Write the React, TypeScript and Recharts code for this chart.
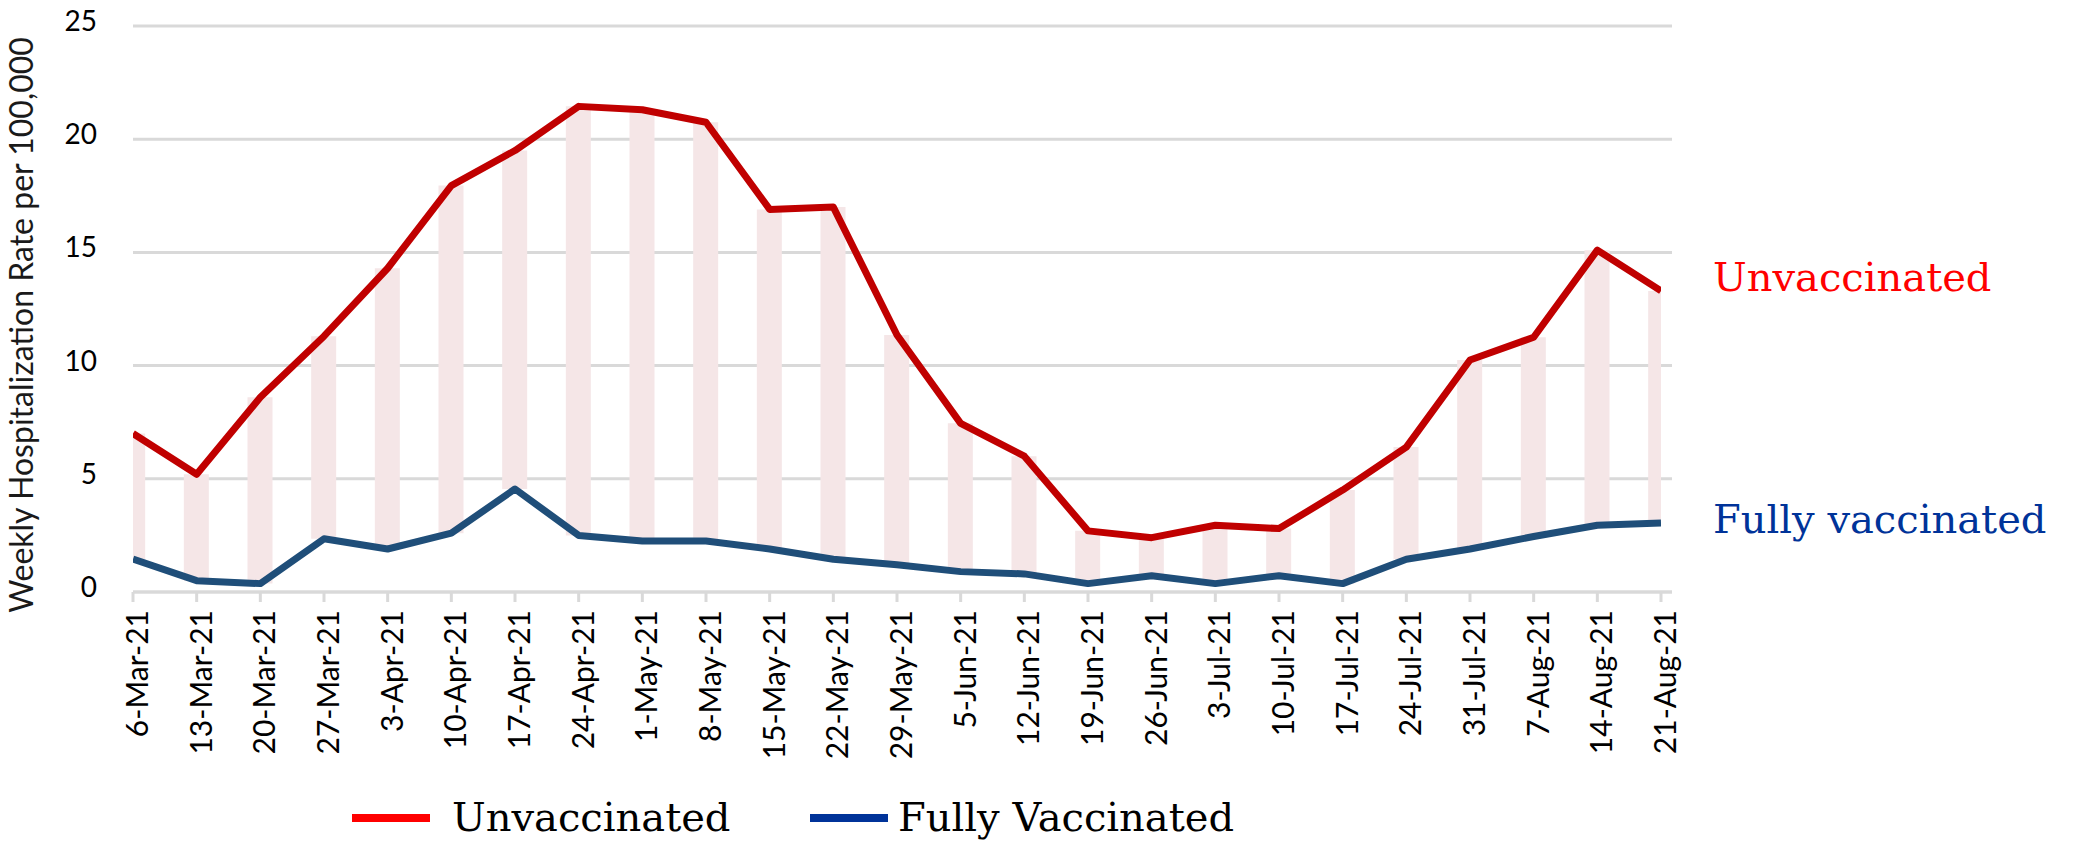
import React from 'react';
import { ComposedChart, Line, Bar, XAxis, YAxis, CartesianGrid, Legend } from 'recharts';

const categories = [
  '6-Mar-21', '13-Mar-21', '20-Mar-21', '27-Mar-21', '3-Apr-21', '10-Apr-21', '17-Apr-21',
  '24-Apr-21', '1-May-21', '8-May-21', '15-May-21', '22-May-21', '29-May-21', '5-Jun-21',
  '12-Jun-21', '19-Jun-21', '26-Jun-21', '3-Jul-21', '10-Jul-21', '17-Jul-21', '24-Jul-21',
  '31-Jul-21', '7-Aug-21', '14-Aug-21', '21-Aug-21',
];

const unvaccinated = [
  7.0, 5.2, 8.6, 11.3, 14.3, 17.95, 19.5, 21.45, 21.3, 20.75, 16.9, 17.0, 11.35,
  7.45, 6.0, 2.7, 2.4, 2.95, 2.8, 4.5, 6.4, 10.25, 11.25, 15.1, 13.3,
];

const fullyVaccinated = [
  1.45, 0.5, 0.37, 2.35, 1.9, 2.6, 4.55, 2.5, 2.25, 2.25, 1.9, 1.45, 1.2,
  0.9, 0.8, 0.37, 0.72, 0.37, 0.72, 0.37, 1.45, 1.9, 2.45, 2.95, 3.05,
];

const yTicks = [0, 5, 10, 15, 20, 25];

const seriesNames = ['Unvaccinated', 'Fully Vaccinated'];
const annotationNames = ['Unvaccinated', 'Fully vaccinated'];

const data = categories.map((label, i) => ({
  idx: i,
  label,
  unvax: unvaccinated[i],
  fv: fullyVaccinated[i],
}));

const RED_LINE = '#C00000';
const BLUE_LINE = '#1F4E79';
const GRID = '#D9D9D9';
const TICK_FONT = 'Lato, "Noto Sans", sans-serif';
const SERIF = '"DejaVu Serif", serif';

const XTick = (props: any) => {
  const { x, y, payload } = props;
  return (
    <text
      x={x}
      y={y}
      transform={`rotate(-90 ${x} ${y})`}
      textAnchor="end"
      dy={15}
      fontSize={30}
      fontFamily={TICK_FONT}
      fill="#000"
    >
      {categories[payload.value]}
    </text>
  );
};

const YTick = (props: any) => {
  const { x, y, payload } = props;
  return (
    <text x={x} y={y} textAnchor="end" dy={5} fontSize={28} fontFamily={TICK_FONT} fill="#000">
      {payload.value}
    </text>
  );
};

const YTitle = () => (
  <text
    x={33}
    y={325}
    transform="rotate(-90 33 325)"
    textAnchor="middle"
    fontSize={32}
    fontFamily={TICK_FONT}
    fill="#1a1a1a"
  >
    Weekly Hospitalization Rate per 100,000
  </text>
);

const legendLayout = [
  { swatch: 352, text: 452, color: '#FF0000' },
  { swatch: 810, text: 898, color: '#003399' },
];

const LegendContent = (props: any) => {
  const payload = (props.payload || []).filter((p: any) => p.type !== 'none');
  return (
    <div style={{ position: 'relative', width: 2077, height: 50 }}>
      {payload.map((p: any) => {
        const k = Math.max(0, seriesNames.indexOf(p.value));
        const pos = legendLayout[k];
        return (
          <React.Fragment key={p.value}>
            <div
              style={{
                position: 'absolute',
                left: pos.swatch,
                top: 22,
                width: 78,
                height: 8,
                background: pos.color,
              }}
            />
            <div
              style={{
                position: 'absolute',
                left: pos.text,
                top: 0,
                height: 50,
                lineHeight: '50px',
                fontSize: 40,
                fontFamily: SERIF,
                color: '#000',
                whiteSpace: 'nowrap',
              }}
            >
              {p.value}
            </div>
          </React.Fragment>
        );
      })}
    </div>
  );
};

export default function App() {
  return (
    <div style={{ position: 'absolute', left: 0, top: 0, width: 2077, height: 842, background: '#fff' }}>
      <ComposedChart
        width={2077}
        height={842}
        data={data}
        margin={{ top: 26, right: 405, bottom: 0, left: 0 }}
      >
        <CartesianGrid vertical={false} stroke={GRID} strokeWidth={3} />
        <XAxis
          dataKey="idx"
          type="number"
          domain={[0, 24]}
          ticks={categories.map((_, i) => i)}
          interval={0}
          allowDataOverflow
          padding={{ left: 0, right: 11 }}
          height={200}
          axisLine={{ stroke: GRID, strokeWidth: 3 }}
          tickLine={{ stroke: GRID, strokeWidth: 3 }}
          tickSize={10}
          tickMargin={8}
          tick={<XTick />}
        />
        <YAxis
          type="number"
          domain={[0, 25]}
          ticks={yTicks}
          width={133}
          axisLine={false}
          tickLine={false}
          tickSize={0}
          tickMargin={36}
          tick={<YTick />}
        />
        <Bar
          dataKey={(d: any) => [d.fv, d.unvax]}
          barSize={25}
          fill="#F5E6E7"
          legendType="none"
          isAnimationActive={false}
        />
        <Line
          type="linear"
          dataKey="unvax"
          name={seriesNames[0]}
          stroke={RED_LINE}
          strokeWidth={7}
          dot={false}
          activeDot={false}
          strokeLinejoin="round"
          isAnimationActive={false}
        />
        <Line
          type="linear"
          dataKey="fv"
          name={seriesNames[1]}
          stroke={BLUE_LINE}
          strokeWidth={7}
          dot={false}
          activeDot={false}
          strokeLinejoin="round"
          isAnimationActive={false}
        />
        <Legend
          verticalAlign="bottom"
          align="left"
          height={50}
          wrapperStyle={{ left: 0, bottom: 0, width: 2077 }}
          content={<LegendContent />}
        />
        <YTitle />
        <text x={1713} y={291} fontSize={40} fontFamily={SERIF} fill="#FF0000">
          {annotationNames[0]}
        </text>
        <text x={1713} y={533} fontSize={40} fontFamily={SERIF} fill="#003399">
          {annotationNames[1]}
        </text>
      </ComposedChart>
    </div>
  );
}
